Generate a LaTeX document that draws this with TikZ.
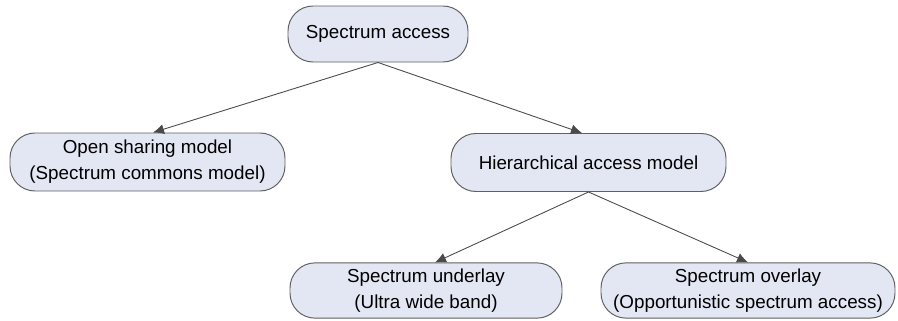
\documentclass[tikz,border=0pt]{standalone}
\usepackage{fontspec}
\setmainfont{Liberation Sans}
\usetikzlibrary{arrows.meta,positioning,shapes}
\definecolor{boxfill}{HTML}{E3E6F3}
\definecolor{boxline}{HTML}{606060}
\definecolor{linkline}{HTML}{4A4A4A}

\begin{document}
\begin{tikzpicture}[
    model/.style={draw=boxline, rounded corners=0.5cm, fill=boxfill, minimum height=1.12cm, align=center, font=\fontsize{10.7}{14.8}\selectfont, line width=0.55pt},
    arrow/.style={-{Latex[length=2.2mm,width=2mm]}, draw=linkline, line width=0.5pt}
  ]
  \useasboundingbox (0,0) rectangle (17.96,6.4);

  % Root
  \node[model, minimum width=3.6cm] (access) at (7.56,5.72) {Spectrum access};

  % Second level
  \node[model, minimum width=5.5cm, minimum height=1.16cm] (open) at (2.95,3.16) {Open sharing model\\(Spectrum commons model)};
  \node[model, minimum width=5.5cm, minimum height=1.16cm] (hier) at (11.77,3.15) {Hierarchical access model};

  % Third level
  \node[model, minimum width=5.44cm, minimum height=1.1cm] (under) at (8.52,0.59) {Spectrum underlay\\(Ultra wide band)};
  \node[model, minimum width=5.88cm, minimum height=1.1cm] (over) at (14.96,0.59) {Spectrum overlay\\(Opportunistic spectrum access)};

  % Arrows
  \draw[arrow] (access.south) -- ([xshift=0.11cm]open.north);
  \draw[arrow] (access.south) -- ([xshift=-0.13cm]hier.north);
  \draw[arrow] (hier.south) -- ([xshift=0.18cm]under.north);
  \draw[arrow] (hier.south) -- (over.north);

\end{tikzpicture}
\end{document}
